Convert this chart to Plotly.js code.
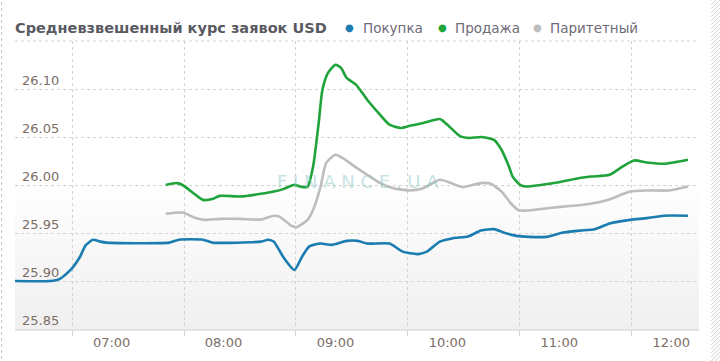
<!DOCTYPE html>
<html><head><meta charset="utf-8">
<script src="https://cdn.plot.ly/plotly-3.0.1.min.js"></script>
<style>html,body{margin:0;padding:0;background:#fff}#c{width:720px;height:361px}</style>
</head><body><div id="c"></div>
<script>
const DAY = '2014-02-04 ';
const titleText = 'Средневзвешенный курс заявок USD';
const seriesNames = ['Покупка', 'Продажа', 'Паритетный'];
const seriesColors = ['#1a7cb0', '#1fa33b', '#bdbdbd'];

const buyTimes = ['06:08','06:27','06:32','06:38','06:43','06:46','06:50','06:54','06:57','07:31','07:36','07:49','07:54','08:20','08:24','08:27','08:32','08:38','08:42','08:46','08:52','08:58','09:06','09:12','09:17','09:29','09:36','09:44','09:49','09:56','10:03','10:11','10:18','10:25','10:31','10:37','10:44','10:53','11:02','11:11','11:19','11:27','11:38','11:47','11:56','12:09'];
const buyValues = [25.900,25.900,25.902,25.9115,25.925,25.937,25.943,25.941,25.940,25.940,25.943,25.943,25.940,25.941,25.943,25.941,25.925,25.9115,25.925,25.936,25.939,25.9376,25.9418,25.9418,25.939,25.939,25.9306,25.928,25.9306,25.941,25.9446,25.9463,25.9525,25.954,25.950,25.947,25.946,25.946,25.9505,25.9525,25.954,25.960,25.9637,25.9655,25.968,25.968];

const sellTimes = ['07:29','07:35','07:38','07:45','07:49','07:54','07:58','08:09','08:20','08:27','08:32','08:38','08:41','08:45','08:48','08:51','08:53','08:56','09:00','09:03','09:06','09:11','09:17','09:24','09:29','09:35','09:40','09:47','09:56','10:00','10:07','10:12','10:18','10:25','10:29','10:33','10:35','10:39','10:42','10:50','10:59','11:11','11:17','11:27','11:34','11:40','11:47','11:56','12:09'];
const sellValues = [26.000,26.002,26.000,25.9898,25.9845,25.9853,25.9887,25.988,25.9908,25.9932,25.9957,26.0002,25.9984,25.998,26.019,26.0645,26.099,26.1167,26.1253,26.122,26.1115,26.1045,26.0888,26.073,26.0628,26.0593,26.0617,26.0645,26.0687,26.0628,26.0506,26.049,26.050,26.047,26.0367,26.0193,26.0088,26.0002,25.9984,26.000,26.0026,26.0072,26.0088,26.0106,26.0193,26.0256,26.0235,26.0221,26.0263];

const parTimes = ['07:29','07:38','07:45','07:50','07:58','08:09','08:20','08:27','08:30','08:36','08:39','08:45','08:48','08:52','08:55','09:00','09:04','09:09','09:17','09:24','09:31','09:40','09:47','09:56','10:02','10:08','10:18','10:23','10:29','10:34','10:38','10:43','10:50','11:02','11:15','11:26','11:38','11:47','11:59','12:09'];
const parValues = [25.970,25.9713,25.9655,25.9637,25.9647,25.9647,25.964,25.968,25.967,25.958,25.956,25.9637,25.974,25.998,26.0228,26.0315,26.028,26.021,26.0106,26.002,25.9967,25.9943,25.9967,26.0054,26.002,25.9978,26.002,26.0015,25.9932,25.981,25.974,25.9734,25.975,25.9775,25.980,25.9845,25.9932,25.9943,25.9943,25.9984];

const xTickLabels = ['07:00','08:00','09:00','10:00','11:00','12:00'];
const xGridTimes = ['06:38:50','07:38:50','08:38:50','09:38:50','10:38:50','11:38:50'];
const yTickVals = [25.85, 25.90, 25.95, 26.00, 26.05, 26.10];
const xRange = ['06:08:12', '12:14:54'];
const yRange = [25.85, 26.15];

// plot geometry in pixels (for placing decorations)
const PL = 15, PR = 698.8, PT = 41.3, PB = 329;
const px2paperX = v => (v - PL) / (PR - PL);
const px2paperY = v => (PB - v) / (PB - PT);

const d = a => a.map(t => DAY + t);
const allTimes = [buyTimes, sellTimes, parTimes];
const allValues = [buyValues, sellValues, parValues];

const traces = [];
for (let i = 0; i < 3; i++) {
  traces.push({
    x: d(allTimes[i]), y: allValues[i], type: 'scatter', mode: 'lines', name: seriesNames[i],
    line: {color: seriesColors[i], width: 2.6, shape: 'spline', smoothing: 0.6},
    showlegend: false, hoverinfo: 'skip'
  });
}
// invisible trace to activate xaxis2 for the vertical grid
traces.push({x: d(xRange), y: [null, null], xaxis: 'x2', type: 'scatter', mode: 'lines', showlegend: false, hoverinfo: 'skip'});

const shapes = [];
const nStrips = 24;
for (let k = 0; k < nStrips; k++) {
  const f = k / (nStrips - 1);
  const g = Math.round(254 - f * 14);
  shapes.push({type: 'rect', xref: 'paper', yref: 'paper', x0: 0, x1: 1,
    y0: 0.5 - (k + 1) * 0.5 / nStrips, y1: 0.5 - k * 0.5 / nStrips,
    fillcolor: `rgb(${g},${g},${g})`, line: {width: 0}, layer: 'below'});
}
shapes.push({type: 'line', xref: 'paper', yref: 'paper', x0: 0, x1: 1, y0: 1, y1: 1,
  line: {color: '#d2d2d2', width: 1, dash: '3px,3px'}, layer: 'below'});
shapes.push({type: 'line', xref: 'paper', yref: 'paper', x0: px2paperX(1.5), x1: px2paperX(1.5), y0: px2paperY(365), y1: px2paperY(-5),
  line: {color: '#c8c8c8', width: 1, dash: 'dot'}});
let p = '';
for (let yy = -20; yy < 380; yy += 4) {
  p += `M${px2paperX(711)},${px2paperY(yy + 9)} L${px2paperX(720)},${px2paperY(yy)} `;
}
shapes.push({type: 'path', xref: 'paper', yref: 'paper', path: p, line: {color: '#d0d0d0', width: 1}});

const tickFont = {family: 'DejaVu Sans', size: 13, color: '#7b6e66'};
const annotations = [];
// y tick labels, drawn inside the plot above their grid lines
yTickVals.forEach(v => annotations.push({xref: 'paper', yref: 'y', x: 0, y: v, xanchor: 'left', yanchor: 'middle',
  xshift: 4.5, yshift: 8.5, text: v.toFixed(2), showarrow: false, font: tickFont}));
// legend entries
const legendDotX = [349, 442, 537];
const legendTextX = [361, 453, 548];
const legendY = px2paperY(28);
for (let i = 0; i < 3; i++) {
  annotations.push({xref: 'paper', yref: 'paper', x: px2paperX(legendDotX[i]), y: legendY, xanchor: 'center', yanchor: 'middle',
    text: '●', showarrow: false, font: {family: 'DejaVu Sans', size: 10, color: seriesColors[i]}});
  annotations.push({xref: 'paper', yref: 'paper', x: px2paperX(legendTextX[i]), y: legendY, xanchor: 'left', yanchor: 'middle',
    text: seriesNames[i], showarrow: false, font: {family: 'DejaVu Sans', size: 13.5, color: '#6e6a78'}});
}
// watermark
annotations.push({xref: 'paper', yref: 'paper', x: px2paperX(358), y: px2paperY(182), text: 'F I N A N C E . U A', showarrow: false,
  font: {family: 'DejaVu Sans', size: 18, color: 'rgba(140,200,200,0.5)'}});

const layout = {
  width: 720, height: 361,
  margin: {l: PL, r: 720 - PR, t: PT, b: 361 - PB, pad: 0},
  paper_bgcolor: '#fff', plot_bgcolor: '#fff',
  title: {text: '<b>' + titleText + '</b>', xref: 'container', yref: 'container', x: 15/720, xanchor: 'left',
    y: 1 - 28/361, yanchor: 'middle', font: {family: 'DejaVu Sans', size: 14.5, color: '#5a5a62'}},
  showlegend: false,
  xaxis: {type: 'date', range: d(xRange), tickvals: d(xTickLabels), ticktext: xTickLabels,
    showgrid: false, zeroline: false, showline: true, linecolor: '#e2e2e2', linewidth: 2,
    ticks: '', ticklabelstandoff: 0, tickfont: tickFont},
  xaxis2: {type: 'date', overlaying: 'x', range: d(xRange), tickvals: d(xGridTimes),
    showticklabels: false, showgrid: true, gridcolor: '#d2d2d2', griddash: '3px,3px', gridwidth: 1,
    ticks: 'outside', ticklen: 6, tickcolor: '#d2d2d2', side: 'bottom', zeroline: false},
  yaxis: {range: yRange, tickvals: yTickVals, showticklabels: false,
    showgrid: true, gridcolor: '#d2d2d2', griddash: '3px,3px', gridwidth: 1, zeroline: false, ticks: ''},
  shapes: shapes,
  annotations: annotations
};
Plotly.newPlot('c', traces, layout, {staticPlot: true});
</script></body></html>
